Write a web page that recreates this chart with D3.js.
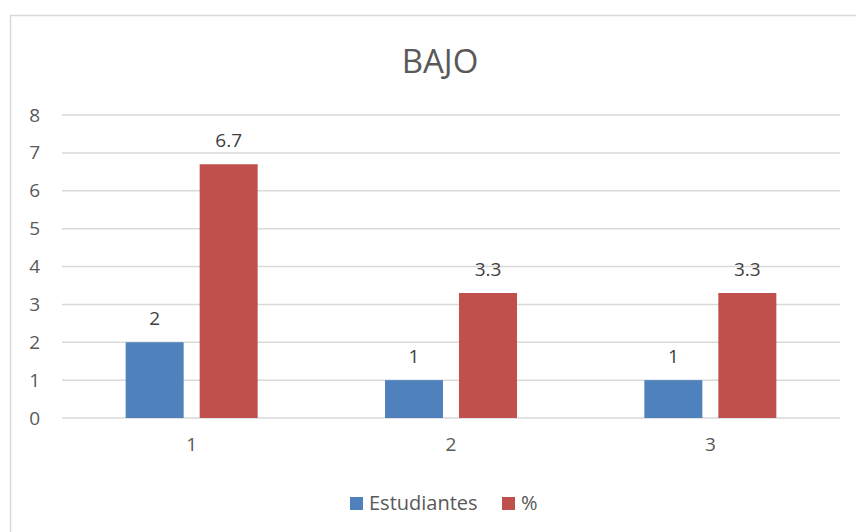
<!DOCTYPE html>
<html lang="es">
<head>
    <meta charset="UTF-8">
    <title>BAJO</title>
    <script src="https://d3js.org/d3.v7.min.js"></script>
    <style>
        body { margin: 0; background: #fff; }
        text { font-family: "Open Sans", "Noto Sans", sans-serif; }
    </style>
</head>
<body>
<div id="chart"></div>

<script>
    var categories = ["1", "2", "3"];
    var seriesNames = ["Estudiantes", "%"];
    var estudiantes = [2, 1, 1];
    var porcentaje = [6.7, 3.3, 3.3];
    var yTicks = [0, 1, 2, 3, 4, 5, 6, 7, 8];

    var colors = ["#4f81bd", "#c0504d"];

    var w = 856;
    var h = 532;
    var plotLeft = 62, plotRight = 840, plotTop = 115, plotBottom = 418;

    var svg = d3.select("#chart")
                .append("svg")
                .attr("width", w)
                .attr("height", h);

    // chart frame
    svg.append("rect")
        .attr("x", 10.5)
        .attr("y", 15.5)
        .attr("width", w)
        .attr("height", h)
        .attr("fill", "none")
        .attr("stroke", "#d9d9d9")
        .attr("stroke-width", 1.5);

    svg.append("text")
        .attr("x", 440)
        .attr("y", 73)
        .attr("text-anchor", "middle")
        .attr("font-size", "33px")
        .attr("fill", "#595959")
        .text("BAJO");

    var y = d3.scaleLinear().domain([0, 8]).range([plotBottom, plotTop]);
    var x0 = d3.scaleBand().domain(categories).range([plotLeft, plotRight]);
    var x1 = d3.scaleBand().domain(seriesNames).range([0, 132]).paddingInner(0.216);

    // gridlines
    svg.append("g")
        .selectAll("line")
        .data(yTicks)
        .enter()
        .append("line")
        .attr("x1", plotLeft)
        .attr("x2", plotRight)
        .attr("y1", function(d) { return y(d); })
        .attr("y2", function(d) { return y(d); })
        .attr("stroke", "#d9d9d9")
        .attr("stroke-width", 1.5);

    var yAxis = d3.axisLeft(y).tickValues(yTicks).tickSize(0).tickPadding(0);
    var gy = svg.append("g")
        .attr("transform", "translate(40,0)")
        .call(yAxis);
    gy.select(".domain").remove();
    gy.selectAll("text")
        .attr("font-size", "19px")
        .attr("fill", "#595959")
        .style("font-family", "'Open Sans', sans-serif");

    var xAxis = d3.axisBottom(x0).tickSize(0).tickPadding(0);
    var gx = svg.append("g")
        .attr("transform", "translate(0,437)")
        .call(xAxis);
    gx.select(".domain").remove();
    gx.selectAll("text")
        .attr("font-size", "19px")
        .attr("fill", "#595959")
        .style("font-family", "'Open Sans', sans-serif");

    var rows = categories.map(function(c, i) {
        return { cat: c, values: [estudiantes[i], porcentaje[i]] };
    });

    var groups = svg.selectAll("g.grp")
        .data(rows)
        .enter()
        .append("g")
        .attr("class", "grp")
        .attr("transform", function(d) {
            return "translate(" + (x0(d.cat) + x0.bandwidth() / 2 - 66) + ",0)";
        });

    var bars = groups.selectAll("g.bar")
        .data(function(d) {
            return d.values.map(function(v, j) { return { name: seriesNames[j], value: v, j: j }; });
        })
        .enter()
        .append("g")
        .attr("class", "bar");

    bars.append("rect")
        .attr("x", function(d) { return x1(d.name); })
        .attr("y", function(d) { return y(d.value); })
        .attr("width", x1.bandwidth())
        .attr("height", function(d) { return y(0) - y(d.value); })
        .attr("fill", function(d) { return colors[d.j]; });

    bars.append("text")
        .attr("x", function(d) { return x1(d.name) + x1.bandwidth() / 2; })
        .attr("y", function(d) { return y(d.value) - 17; })
        .attr("text-anchor", "middle")
        .attr("font-size", "19px")
        .attr("fill", "#404040")
        .text(function(d) { return d.value; });

    // legend
    var legendX = [350, 502];
    var legend = svg.selectAll("g.legend")
        .data(seriesNames)
        .enter()
        .append("g")
        .attr("class", "legend")
        .attr("transform", function(d, i) { return "translate(" + legendX[i] + ",497)"; });

    legend.append("rect")
        .attr("width", 13)
        .attr("height", 13)
        .attr("fill", function(d, i) { return colors[i]; });

    legend.append("text")
        .attr("x", 19)
        .attr("y", 13)
        .attr("font-size", "20px")
        .attr("fill", "#595959")
        .text(function(d) { return d; });
</script>
</body>
</html>
